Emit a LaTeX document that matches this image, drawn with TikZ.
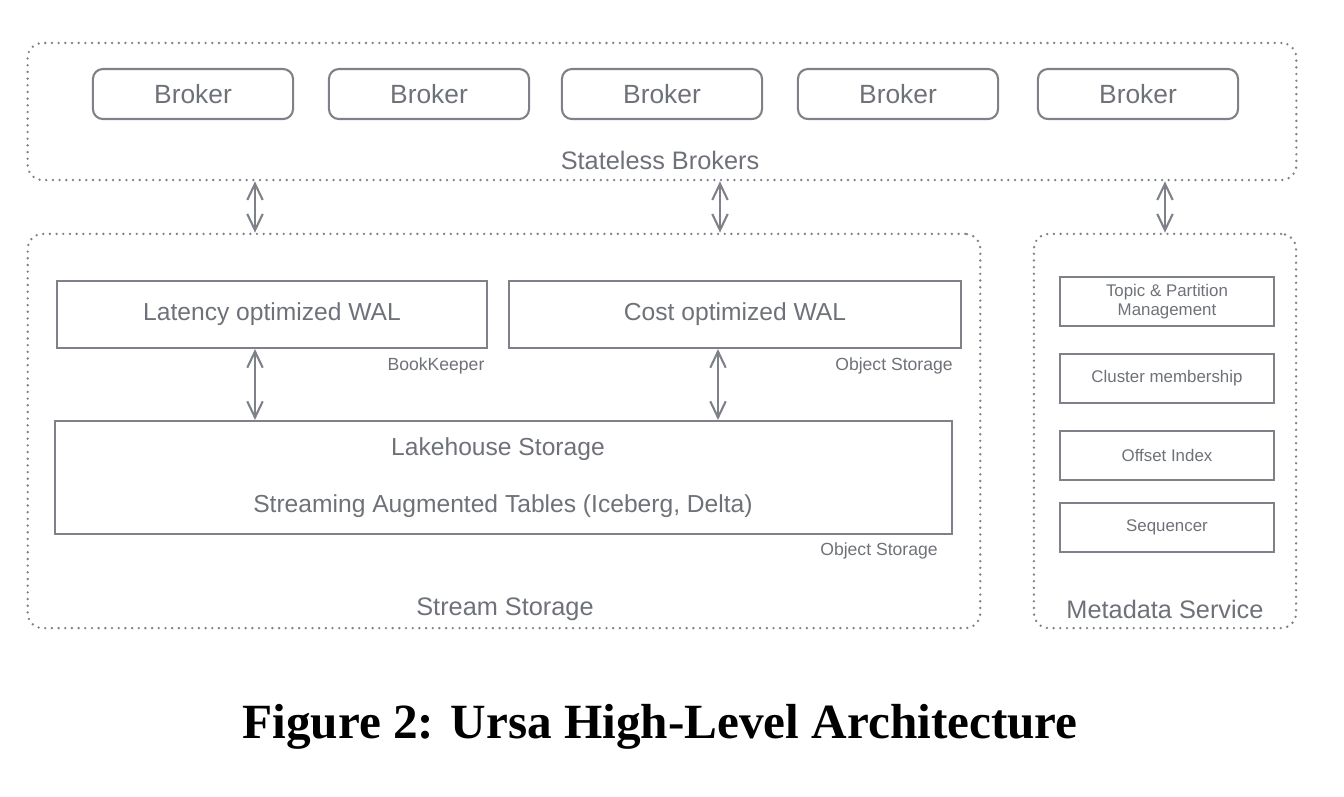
\documentclass[tikz,border=0pt]{standalone}
\usepackage{fontspec}
\setmainfont{Liberation Sans}
\newfontfamily\capfont{Liberation Serif}
\usetikzlibrary{backgrounds}
\usetikzlibrary{arrows.meta}
\definecolor{skline}{HTML}{7E8288}
\definecolor{sktext}{HTML}{6E7278}
\newcommand{\brky}{94}
\newcommand{\wala}{314.5}
\newcommand{\boxw}{2cm}
\newcommand{\boxh}{0.5cm}
\newcommand{\metaw}{2.14cm}
\newcommand{\metah}{0.49cm}
\newcommand{\metax}{1167}
\tikzset{
  grp/.style={draw=skline, line width=0.75pt, line cap=round,
    dash pattern=on 0pt off 1.9pt, rounded corners=0.15cm,
    inner sep=0pt},
  brk/.style={draw=skline, line width=0.6pt, rounded corners=0.1cm,
    minimum width=\boxw, minimum height=\boxh, inner sep=0pt,
    text=sktext, font=\fontsize{7.5}{9}\selectfont},
  comp/.style={draw=skline, line width=0.6pt, inner sep=0pt,
    text=sktext, font=\fontsize{7}{8.5}\selectfont},
  metabox/.style={draw=skline, line width=0.6pt, inner sep=0pt,
    minimum width=\metaw, minimum height=\metah, align=center,
    text=sktext, font=\fontsize{4.8}{5.6}\selectfont},
  grplbl/.style={text=sktext, font=\fontsize{7.2}{8.5}\selectfont},
  tag/.style={text=sktext, font=\fontsize{5}{6}\selectfont},
  dbl/.style={draw=skline, line width=0.6pt,
    {Straight Barb[length=4.6pt,width=4.4pt]}-{Straight Barb[length=4.6pt,width=4.4pt]}}
}

\begin{document}
\begin{tikzpicture}[x=0.01cm,y=-0.01cm]
    \useasboundingbox (0,0) rectangle (1344,796);

    % brokers
    \node (allbrk) at (662,111.5) [grp, minimum width=12.68cm,
      minimum height=1.37cm] {};
    \foreach \i/\x in {1/193,2/429,3/662,4/898,5/1138}
      \node (brk\i) at (\x,\brky) [brk] {Broker};
    \node (brklbl) at (660,160) [grplbl] {Stateless Brokers};

    % stream storage
    \node (strm) at (504,431) [grp, minimum width=9.52cm,
      minimum height=3.94cm] {};
    \node (lat) at (272,\wala) [comp, minimum width=4.3cm,
      minimum height=0.67cm] {Latency optimized WAL};
    \node (cost) at (735,\wala) [comp, minimum width=4.52cm,
      minimum height=0.67cm] {Cost optimized WAL};
    \node (bk) at (436,366) [tag] {BookKeeper};
    \node (objwal) at (894,366) [tag] {Object Storage};
    \node (lake) at (503.5,477.5) [comp, minimum width=8.97cm,
      minimum height=1.13cm] {};
    \node (lakea) at (498,449) [comp, draw=none] {Lakehouse Storage};
    \node (lakeb) at (503,506) [comp, draw=none]
      {Streaming Augmented Tables (Iceberg, Delta)};
    \node (objlake) at (879,551) [tag] {Object Storage};
    \node (strmlbl) at (505,609) [grplbl] {Stream Storage};

    % metadata service
    \node (meta) at (1165,431) [grp, minimum width=2.62cm,
      minimum height=3.94cm] {};
    \node (topic) at (\metax,301.5) [metabox] {Topic \& Partition\\Management};
    \node (clus) at (\metax,378.5) [metabox] {Cluster membership};
    \node (offs) at (\metax,455.5) [metabox] {Offset Index};
    \node (seqr) at (\metax,527.5) [metabox] {Sequencer};
    \node (metalbl) at (1165,609) [grplbl] {Metadata Service};

    % arrows
    \coordinate (arra) at (255,0);
    \coordinate (arrb) at (720,0);
    \coordinate (arrc) at (1165,0);
    \coordinate (arrd) at (718,0);
    \draw[dbl] (allbrk.south -| arra) -- (strm.north -| arra);
    \draw[dbl] (allbrk.south -| arrb) -- (strm.north -| arrb);
    \draw[dbl] (allbrk.south -| arrc) -- (meta.north -| arrc);
    \draw[dbl] (lat.south -| arra) -- (lake.north -| arra);
    \draw[dbl] (cost.south -| arrd) -- (lake.north -| arrd);

    \node (cap) at (660,727) {\capfont\bfseries\fontsize{14}{17}\selectfont
      Figure 2: Ursa High-Level Architecture};
\end{tikzpicture}
\end{document}
